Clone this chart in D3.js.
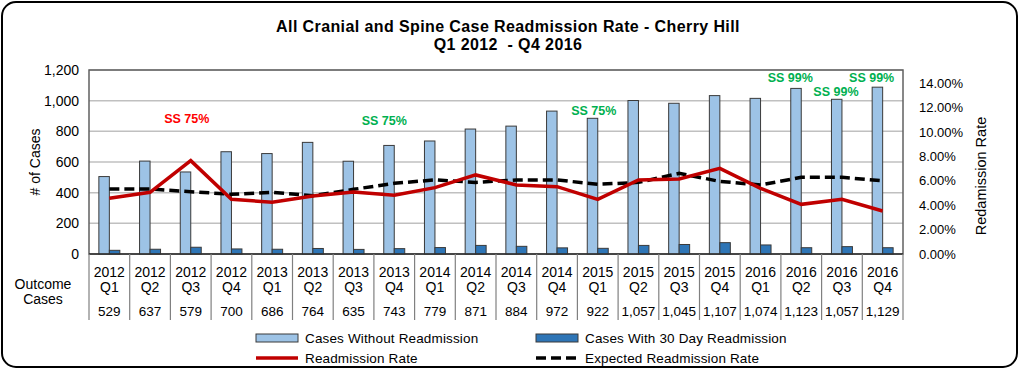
<!DOCTYPE html>
<html><head><meta charset="utf-8">
<script src="https://cdn.jsdelivr.net/npm/d3@7"></script>
<style>body{margin:0;background:#fff}text{font-family:Arial,"Liberation Sans",sans-serif}</style>
</head><body><svg id="c" width="1020" height="372"></svg>
<script>
const categories = ["2012 Q1","2012 Q2","2012 Q3","2012 Q4","2013 Q1","2013 Q2","2013 Q3","2013 Q4","2014 Q1","2014 Q2","2014 Q3","2014 Q4","2015 Q1","2015 Q2","2015 Q3","2015 Q4","2016 Q1","2016 Q2","2016 Q3","2016 Q4"];
const outcomeCases = [529,637,579,700,686,764,635,743,779,871,884,972,922,1057,1045,1107,1074,1123,1057,1129];
const casesWithout = [505,606,535,667,655,728,605,708,737,815,834,932,885,1001,983,1033,1015,1080,1009,1088];
const casesWith30 = [24,31,44,33,31,36,30,35,42,56,50,40,37,56,62,74,59,41,48,41];
const readmissionRate = [0.0457,0.0506,0.0765,0.0448,0.0424,0.0475,0.0508,0.0481,0.0544,0.0648,0.0566,0.0552,0.0448,0.0607,0.0615,0.0702,0.0538,0.0407,0.0448,0.0352];
const expectedRate = [0.0533,0.0533,0.0511,0.0489,0.0506,0.0478,0.0530,0.0579,0.0607,0.0587,0.0607,0.0607,0.0571,0.0587,0.0661,0.0595,0.0566,0.0628,0.0628,0.0600];
const leftTicks = [0,200,400,600,800,1000,1200];
const rightTicks = [0,0.02,0.04,0.06,0.08,0.10,0.12,0.14];
const annotations = [
  {cat:"2012 Q3", text:"SS 75%", color:"#ff0000", level:880, dx:-4},
  {cat:"2013 Q4", text:"SS 75%", color:"#00b050", level:869, dx:-10},
  {cat:"2015 Q1", text:"SS 75%", color:"#00b050", level:932, dx:-4},
  {cat:"2016 Q2", text:"SS 99%", color:"#00b050", level:1148, dx:-11},
  {cat:"2016 Q3", text:"SS 99%", color:"#00b050", level:1056, dx:-6},
  {cat:"2016 Q4", text:"SS 99%", color:"#00b050", level:1148, dx:-11}
];
const titleLines = ["All Cranial and Spine Case Readmission Rate - Cherry Hill","Q1 2012  - Q4 2016"];

const svg = d3.select("#c");
const L=89, R=903, T=70, B=254;
const x = d3.scaleBand().domain(categories).range([L,R]).padding(0);
const bw = x.bandwidth();
const x1 = d3.scaleBand().domain(["without","with"]).range([0,bw]).paddingInner(0).paddingOuter(0.94);
const y = d3.scaleLinear().domain([0,1200]).range([B,T]);
const y2 = d3.scaleLinear().domain([0,0.1508]).range([B,T]);
const cx = c => x(c)+bw/2;

// border
svg.append("rect").attr("x",2).attr("y",2).attr("width",1015).attr("height",365).attr("rx",14)
  .attr("fill","#fff").attr("stroke","#000").attr("stroke-width",2);

// title
svg.selectAll("text.title").data(titleLines).join("text").attr("class","title")
  .attr("x",508).attr("y",(d,i)=>31.5+i*18.5).attr("text-anchor","middle")
  .attr("font-size",16).attr("font-weight","bold").attr("letter-spacing",0.4)
  .style("white-space","pre").text(d=>d);

// gridlines
svg.append("g").selectAll("line").data(leftTicks.filter(d=>d>0)).join("line")
  .attr("x1",L).attr("x2",R).attr("y1",d=>y(d)).attr("y2",d=>y(d))
  .attr("stroke","#c0c0c0").attr("stroke-width",1.5);

// left axis
const la = svg.append("g").attr("transform",`translate(${L},0)`)
  .call(d3.axisLeft(y).tickValues(leftTicks).tickFormat(d3.format(",")).tickSize(0).tickPadding(10));
la.select(".domain").remove();
la.selectAll("text").attr("font-size",14).attr("fill","#000").attr("font-family","Arial");

// right axis
const ra = svg.append("g").attr("transform",`translate(${R},0)`)
  .call(d3.axisRight(y2).tickValues(rightTicks).tickFormat(d3.format(".2%")).tickSize(0).tickPadding(16));
ra.select(".domain").remove();
ra.selectAll("text").attr("font-size",13).attr("fill","#000").attr("font-family","Arial");

// axis titles
svg.append("text").attr("transform","translate(35,162) rotate(-90)").attr("text-anchor","middle")
  .attr("dominant-baseline","central").attr("font-size",14).text("# of Cases");
svg.append("text").attr("transform","translate(981,176) rotate(-90)").attr("text-anchor","middle")
  .attr("dominant-baseline","central").attr("font-size",14.5).text("Redamission Rate");

// plot frame
svg.append("rect").attr("x",L).attr("y",T).attr("width",R-L).attr("height",B-T)
  .attr("fill","none").attr("stroke","#606060").attr("stroke-width",1.5);

// bars
svg.append("g").selectAll("rect").data(categories).join("rect")
  .attr("x",c=>x(c)+x1("without")).attr("width",x1.bandwidth())
  .attr("y",(c,i)=>y(casesWithout[i])).attr("height",(c,i)=>B-y(casesWithout[i]))
  .attr("fill","#9dc3e6").attr("stroke","#3a3a3a").attr("stroke-width",1);
svg.append("g").selectAll("rect").data(categories).join("rect")
  .attr("x",c=>x(c)+x1("with")).attr("width",x1.bandwidth())
  .attr("y",(c,i)=>y(casesWith30[i])).attr("height",(c,i)=>B-y(casesWith30[i]))
  .attr("fill","#2e75b6").attr("stroke","#3a3a3a").attr("stroke-width",1);

// lines
const line = d3.line().x((d,i)=>cx(categories[i])).y(d=>y2(d));
svg.append("path").datum(expectedRate).attr("d",line).attr("fill","none")
  .attr("stroke","#000").attr("stroke-width",3.5).attr("stroke-dasharray","10,5");
svg.append("path").datum(readmissionRate).attr("d",line).attr("fill","none")
  .attr("stroke","#c00000").attr("stroke-width",3.5).attr("stroke-linejoin","miter");

// annotations
svg.append("g").selectAll("text").data(annotations).join("text")
  .attr("x",d=>cx(d.cat)+d.dx).attr("y",d=>y(d.level)).attr("text-anchor","middle").attr("dominant-baseline","central")
  .attr("font-size",12.5).attr("font-weight","bold").attr("fill",d=>d.color).text(d=>d.text);

// baseline
svg.append("line").attr("x1",L).attr("x2",R).attr("y1",B).attr("y2",B).attr("stroke","#303030").attr("stroke-width",1.5);

// table
const bounds = categories.map(c=>x(c)).concat([R]);
svg.append("g").selectAll("line").data(bounds).join("line")
  .attr("x1",d=>d).attr("x2",d=>d).attr("y1",B).attr("y2",320).attr("stroke","#808080").attr("stroke-width",1.2);
const tg = svg.append("g").attr("font-size",14);
tg.selectAll("text.yr").data(categories).join("text").attr("class","yr")
  .attr("x",c=>cx(c)).attr("y",272).attr("text-anchor","middle").attr("dominant-baseline","central").attr("font-size",14)
  .text(c=>c.split(" ")[0]);
tg.selectAll("text.q").data(categories).join("text").attr("class","q")
  .attr("x",c=>cx(c)).attr("y",287).attr("text-anchor","middle").attr("dominant-baseline","central").attr("font-size",14)
  .text(c=>c.split(" ")[1]);
tg.selectAll("text.v").data(outcomeCases).join("text").attr("class","v")
  .attr("x",(d,i)=>cx(categories[i])).attr("y",311).attr("text-anchor","middle").attr("dominant-baseline","central").attr("font-size",13.5)
  .text(d=>d3.format(",")(d));
svg.append("text").attr("x",43).attr("y",284).attr("text-anchor","middle").attr("dominant-baseline","central").attr("font-size",14).text("Outcome");
svg.append("text").attr("x",43).attr("y",299).attr("text-anchor","middle").attr("dominant-baseline","central").attr("font-size",14).text("Cases");

// legend
const legend = [
  {label:"Cases Without Readmission", type:"bar", color:"#9dc3e6", x:256, y:338},
  {label:"Cases With 30 Day Readmission", type:"bar", color:"#2e75b6", x:536, y:338},
  {label:"Readmission Rate", type:"line", color:"#c00000", x:256, y:358},
  {label:"Expected Readmission Rate", type:"dash", color:"#000", x:536, y:358}
];
const lg = svg.append("g").selectAll("g").data(legend).join("g").attr("transform",d=>`translate(${d.x},${d.y})`);
lg.filter(d=>d.type==="bar").append("rect").attr("x",0).attr("y",-4).attr("width",42).attr("height",8)
  .attr("fill",d=>d.color).attr("stroke","#3a3a3a");
lg.filter(d=>d.type!=="bar").append("line").attr("x1",0).attr("x2",42).attr("y1",0).attr("y2",0)
  .attr("stroke",d=>d.color).attr("stroke-width",3.5).attr("stroke-dasharray",d=>d.type==="dash"?"10,5":null);
lg.append("text").attr("x",49).attr("y",0).attr("dominant-baseline","central").attr("font-size",13.5)
  .attr("letter-spacing",0.15).text(d=>d.label);
</script></body></html>
